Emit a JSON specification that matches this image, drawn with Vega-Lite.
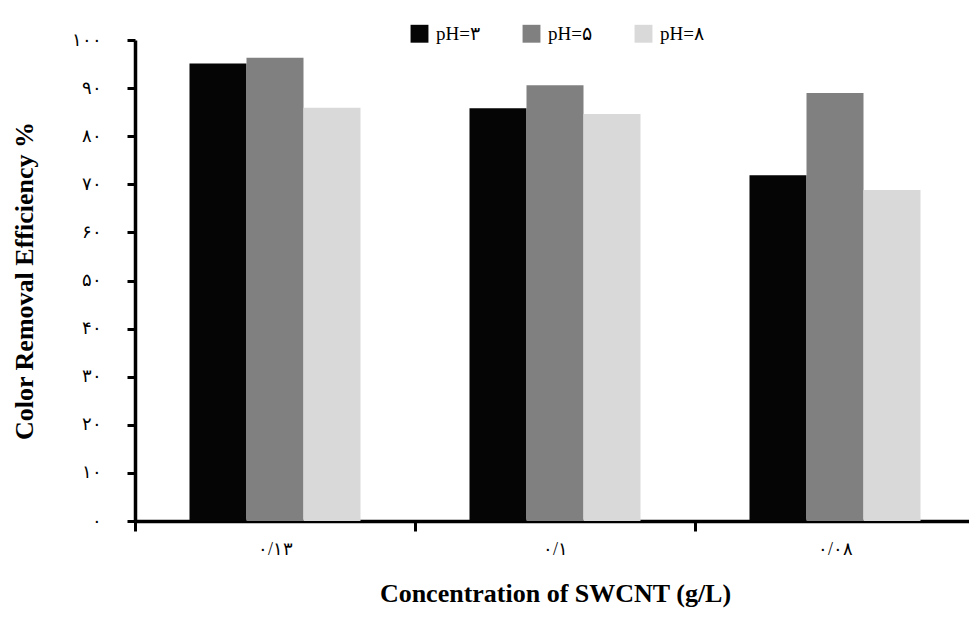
{
  "$schema": "https://vega.github.io/schema/vega-lite/v6.json",
  "autosize": "none",
  "padding": {"left": 135, "top": 40, "right": 0, "bottom": 114},
  "width": 840,
  "height": 481,
  "data": {
    "values": [
      {"conc": "۰/۱۳", "pH": "pH=۳", "value": 95.1},
      {"conc": "۰/۱۳", "pH": "pH=۵", "value": 96.3},
      {"conc": "۰/۱۳", "pH": "pH=۸", "value": 85.9},
      {"conc": "۰/۱", "pH": "pH=۳", "value": 85.8},
      {"conc": "۰/۱", "pH": "pH=۵", "value": 90.6},
      {"conc": "۰/۱", "pH": "pH=۸", "value": 84.6},
      {"conc": "۰/۰۸", "pH": "pH=۳", "value": 71.9},
      {"conc": "۰/۰۸", "pH": "pH=۵", "value": 89.0},
      {"conc": "۰/۰۸", "pH": "pH=۸", "value": 68.8}
    ]
  },
  "mark": "bar",
  "encoding": {
    "x": {
      "field": "conc",
      "type": "nominal",
      "sort": ["۰/۱۳", "۰/۱", "۰/۰۸"],
      "scale": {"paddingInner": 0, "paddingOuter": 0},
      "title": "Concentration of SWCNT (g/L)",
      "axis": {
        "labelAngle": 0,
        "tickBand": "extent",
        "tickSize": 10,
        "tickWidth": 3,
        "domainWidth": 3.5,
        "labelPadding": 9,
        "labelFontSize": 18,
        "titleFontSize": 26,
        "titleFontWeight": "bold",
        "titlePadding": 22
      }
    },
    "xOffset": {
      "field": "pH",
      "type": "nominal",
      "sort": ["pH=۳", "pH=۵", "pH=۸"],
      "scale": {"paddingInner": 0, "paddingOuter": 0.956}
    },
    "y": {
      "field": "value",
      "type": "quantitative",
      "scale": {"domain": [0, 100]},
      "title": "Color Removal Efficiency %",
      "axis": {
        "values": [0, 10, 20, 30, 40, 50, 60, 70, 80, 90, 100],
        "labelExpr": "{'0':'۰','10':'۱۰','20':'۲۰','30':'۳۰','40':'۴۰','50':'۵۰','60':'۶۰','70':'۷۰','80':'۸۰','90':'۹۰','100':'۱۰۰'}[datum.label]",
        "grid": false,
        "tickSize": 8,
        "tickWidth": 3,
        "domainWidth": 3.5,
        "labelPadding": 26,
        "labelFontSize": 18,
        "titleFontSize": 26,
        "titleFontWeight": "bold",
        "titlePadding": 34
      }
    },
    "color": {
      "field": "pH",
      "type": "nominal",
      "sort": ["pH=۳", "pH=۵", "pH=۸"],
      "scale": {
        "domain": ["pH=۳", "pH=۵", "pH=۸"],
        "range": ["#050505", "#808080", "#d9d9d9"]
      },
      "legend": {
        "title": null,
        "orient": "none",
        "direction": "horizontal",
        "legendX": 275,
        "legendY": -16,
        "padding": 0,
        "symbolType": "square",
        "symbolSize": 320,
        "symbolStrokeWidth": 0,
        "symbolOpacity": 1,
        "labelFontSize": 19,
        "labelOffset": 7,
        "columnPadding": 42
      }
    }
  },
  "config": {
    "font": "Liberation Serif",
    "view": {"stroke": null},
    "axis": {
      "domainColor": "#000000",
      "tickColor": "#000000",
      "labelColor": "#000000",
      "titleColor": "#000000"
    },
    "legend": {"labelColor": "#000000"}
  }
}
